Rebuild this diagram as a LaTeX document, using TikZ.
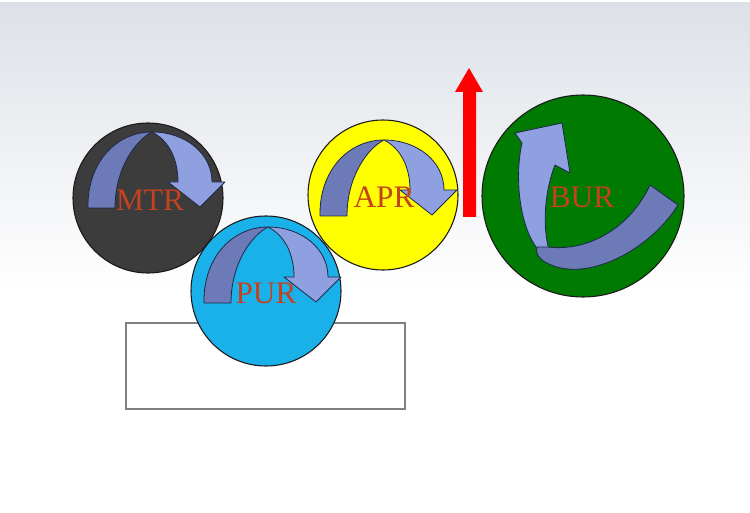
\documentclass[tikz,border=0pt]{standalone}
\usepackage{fontspec}
\setmainfont{Liberation Serif}
\usepackage{xcolor}

\definecolor{skygray}{RGB}{221,225,231}
\definecolor{mtrgray}{RGB}{60,60,60}
\definecolor{purblue}{RGB}{26,176,234}
\definecolor{apryellow}{RGB}{255,255,0}
\definecolor{burgreen}{RGB}{0,122,0}
\definecolor{labelred}{RGB}{196,66,30}
\definecolor{arrowdark}{RGB}{108,122,184}
\definecolor{arrowlight}{RGB}{142,160,224}
\definecolor{arrowedge}{RGB}{30,40,70}

\tikzset{
  wheel/.style={circle, draw={rgb,255:red,25;green,25;blue,25}, line width=0.8pt, inner sep=0pt, minimum size=112.5pt},
  rollname/.style={text=labelred, inner sep=0.75pt, font=\fontsize{23.5}{28}\selectfont},
  darkband/.style={fill=arrowdark, draw=arrowedge, line width=0.6pt, line join=round},
  lightband/.style={fill=arrowlight, draw=arrowedge, line width=0.6pt, line join=round},
  pics/turnarrow/.style={code={
    \begin{scope}[yscale=-1]
    \draw[darkband] (-60,10) .. controls (-61,-35) and (-32,-66) .. (4,-66) .. controls (-12,-58) and (-33,-30) .. (-33,10) -- cycle;
    \draw[lightband] (4,-66) .. controls (38,-66) and (64,-44) .. (64,-16) -- (77,-16) -- (52,9) -- (20,-16) -- (30,-16) .. controls (30,-40) and (20,-58) .. (4,-66) -- cycle;
    \end{scope}
  }}
}

\begin{document}
\begin{tikzpicture}[x=0.75pt,y=0.75pt,yscale=-1,xscale=1]
        \useasboundingbox (0,0) rectangle (750,513);

        % Background
        \fill[white] (0,0) rectangle (750,513);
        \fill[top color=skygray, bottom color=white] (0,3) rectangle (750,290);

        %Shape: Rectangle
        \draw[color={rgb,255:red,128;green,128;blue,128}, line width=0.9pt, fill=white] (126,323) rectangle (405,409);

        %Shape: Circle MTR
        \node[wheel, fill=mtrgray] (mtr) at (148,198) {};
        \pic at (mtr.center) {turnarrow};
        % Text Node
        \node[rollname] (mtrlabel) at (150,200) {MTR};

        %Shape: Circle APR
        \node[wheel, fill=apryellow] (apr) at (383,195) {};
        \pic at (380,206) {turnarrow};
        % Text Node
        \node[rollname] (aprlabel) at (384,197) {APR};

        %Shape: Circle PUR
        \node[wheel, fill=purblue] (pur) at (266,291) {};
        \pic at (264,293) {turnarrow};
        % Text Node
        \node[rollname] (purlabel) at (266,293) {PUR};

        %Shape: Circle BUR
        \node[wheel, fill=burgreen, minimum size=151.5pt] (bur) at (583,196) {};
        %Shape: Curved Arrow
        \draw[lightband] (540,252) .. controls (520,230) and (514,180) .. (522,143) -- (515,133) -- (562,123) -- (570,173) -- (555,165) .. controls (545,190) and (542,225) .. (549,250) -- cycle;
        \draw[darkband] (650,185) -- (678,205) .. controls (650,250) and (585,285) .. (545,262) .. controls (538,258) and (535,252) .. (537,247) -- (548,247) .. controls (588,252) and (630,228) .. (650,185) -- cycle;
        % Text Node
        \node[rollname] (burlabel) at (582,197) {BUR};

        %Shape: Up Arrow
        \fill[red] (463,217) -- (463,92) -- (455,92) -- (469,68) -- (483,92) -- (476,92) -- (476,217) -- cycle;

\end{tikzpicture}
\end{document}
